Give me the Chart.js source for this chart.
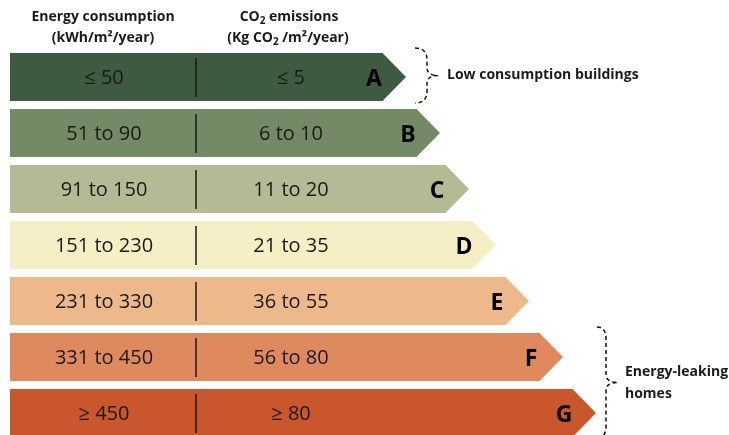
<!DOCTYPE html>
<html>
<head>
<meta charset="utf-8">
<script src="https://cdn.jsdelivr.net/npm/chart.js@4/dist/chart.umd.min.js"></script>
<style>
  html, body { margin: 0; padding: 0; background: #fff; overflow: hidden; }
  canvas { display: block; }
</style>
</head>
<body>
<canvas id="labelChart" width="729" height="441"></canvas>
<script>
const grades = ['A', 'B', 'C', 'D', 'E', 'F', 'G'];
const energyRanges = ['≤ 50', '51 to 90', '91 to 150', '151 to 230', '231 to 330', '331 to 450', '≥ 450'];
const co2Ranges = ['≤ 5', '6 to 10', '11 to 20', '21 to 35', '36 to 55', '56 to 80', '≥ 80'];
const barLengths = [373, 407, 436, 463, 496, 530, 563];
const barColors = ['#3e5a40', '#748a66', '#b5ba95', '#f6efc5', '#edb98a', '#df8a5e', '#c9562c'];

const FONT = '"Open Sans", sans-serif';
const TEXT = '#1a1a1a';

// draws a line of text made of parts, some of them subscript, centred on cx
function drawParts(ctx, parts, cx, y, size) {
    let total = 0;
    parts.forEach(p => {
        ctx.font = 'bold ' + (p.sub ? size - 4 : size) + 'px ' + FONT;
        total += ctx.measureText(p.t).width;
    });
    let x = cx - total / 2;
    ctx.textAlign = 'left';
    parts.forEach(p => {
        ctx.font = 'bold ' + (p.sub ? size - 4 : size) + 'px ' + FONT;
        ctx.fillText(p.t, x, p.sub ? y + 4 : y);
        x += ctx.measureText(p.t).width;
    });
}

function brace(ctx, x, top, bottom, xm, tipX) {
    const mid = (top + bottom) / 2;
    ctx.beginPath();
    ctx.moveTo(x, top);
    ctx.quadraticCurveTo(xm, top, xm, top + 12);
    ctx.lineTo(xm, mid - 8);
    ctx.quadraticCurveTo(xm, mid, tipX, mid);
    ctx.quadraticCurveTo(xm, mid, xm, mid + 8);
    ctx.lineTo(xm, bottom - 12);
    ctx.quadraticCurveTo(xm, bottom, x, bottom);
    ctx.stroke();
}

const labelPlugin = {
    id: 'energyLabel',
    afterDatasetsDraw(chart) {
        const ctx = chart.ctx;
        const meta = chart.getDatasetMeta(0);
        ctx.save();
        meta.data.forEach((bar, i) => {
            const h = bar.height;
            // arrow tip
            ctx.fillStyle = barColors[i];
            ctx.beginPath();
            ctx.moveTo(bar.x - 0.5, bar.y - h / 2);
            ctx.lineTo(bar.x + 23, bar.y);
            ctx.lineTo(bar.x - 0.5, bar.y + h / 2);
            ctx.closePath();
            ctx.fill();

            // divider
            ctx.strokeStyle = TEXT;
            ctx.lineWidth = 1.5;
            ctx.beginPath();
            ctx.moveTo(196, bar.y - h / 2 + 5);
            ctx.lineTo(196, bar.y + h / 2 - 4);
            ctx.stroke();

            ctx.fillStyle = TEXT;
            ctx.textBaseline = 'middle';
            ctx.textAlign = 'center';
            ctx.font = '20px ' + FONT;
            ctx.fillText(energyRanges[i], 104, bar.y + 1);
            ctx.fillText(co2Ranges[i], 291, bar.y + 1);

            ctx.font = 'bold 23px ' + FONT;
            ctx.fillStyle = '#000';
            ctx.fillText(grades[i], bar.x - 9, bar.y + 2);
        });
        ctx.restore();
    },
    afterDraw(chart) {
        const ctx = chart.ctx;
        ctx.save();
        ctx.fillStyle = TEXT;
        ctx.textBaseline = 'middle';
        drawParts(ctx, [{ t: 'Energy consumption' }], 103, 17, 14);
        drawParts(ctx, [{ t: '(kWh/m²/year)' }], 103, 38, 14);
        drawParts(ctx, [{ t: 'CO' }, { t: '2', sub: true }, { t: ' emissions' }], 289, 17, 14);
        drawParts(ctx, [{ t: '(Kg CO' }, { t: '2', sub: true }, { t: ' /m²/year)' }], 288, 38, 14);

        ctx.textAlign = 'left';
        ctx.font = 'bold 14px ' + FONT;
        ctx.fillText('Low consumption buildings', 447, 75);
        ctx.fillText('Energy-leaking', 625, 372);
        ctx.fillText('homes', 625, 394);

        ctx.strokeStyle = '#111';
        ctx.lineWidth = 1.5;
        ctx.setLineDash([4, 3]);
        brace(ctx, 415, 48, 103, 427, 438);
        brace(ctx, 597, 327, 438, 606, 618);
        ctx.restore();
    }
};

new Chart(document.getElementById('labelChart'), {
    type: 'bar',
    data: {
        labels: grades,
        datasets: [{
            data: barLengths,
            backgroundColor: barColors,
            borderWidth: 0,
            barPercentage: 48 / 56,
            categoryPercentage: 1
        }]
    },
    options: {
        indexAxis: 'y',
        responsive: false,
        animation: false,
        layout: { padding: { left: 10, top: 49, right: 0, bottom: 0 } },
        scales: {
            x: { display: false, min: 0, max: 719 },
            y: { display: false }
        },
        plugins: {
            legend: { display: false },
            tooltip: { enabled: false }
        }
    },
    plugins: [labelPlugin]
});
</script>
</body>
</html>
